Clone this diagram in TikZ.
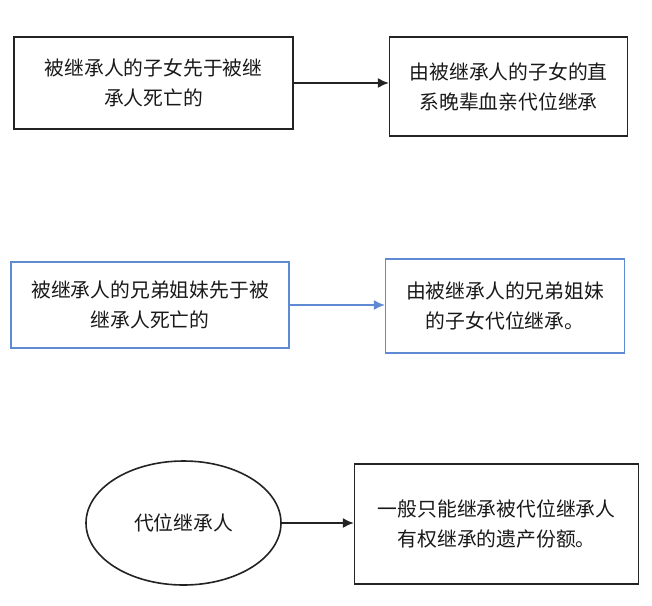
\documentclass[tikz,border=0pt]{standalone}
\usepackage{fontspec}
\setmainfont{Noto Sans CJK SC}
\usetikzlibrary{arrows.meta, positioning, shapes.geometric}
\definecolor{lineblack}{RGB}{35,35,35}
\definecolor{lineblue}{RGB}{95,138,212}
\definecolor{txtgray}{RGB}{25,25,25}
\newcommand{\cjktext}{\fontsize{19.8pt}{30pt}\selectfont}
\tikzset{
  box/.style={rectangle, draw=lineblack, line width=1.6pt, align=center,
              inner sep=0pt, font=\cjktext, text=txtgray},
  bluebox/.style={box, draw=lineblue},
  oval/.style={ellipse, draw=lineblack, line width=1.6pt, inner sep=0pt,
               font=\cjktext, text=txtgray},
  arr/.style={-{Latex[length=11pt, width=10pt]}, line width=1.5pt, draw=lineblack},
  bluearr/.style={arr, draw=lineblue}
}

\begin{document}
\begin{tikzpicture}
\useasboundingbox (0,0) rectangle (652pt,-605pt);
\node[box, minimum width=279pt, minimum height=92pt] (a) at (153.5pt,-83pt) {被继承人的子女先于被继\\承人死亡的};
\node[box, minimum width=238pt, minimum height=99pt, right=95pt of a, yshift=-3.5pt] (b) {由被继承人的子女的直\\系晚辈血亲代位继承};
\node[bluebox, minimum width=278pt, minimum height=86pt] (c) at (150pt,-305pt) {被继承人的兄弟姐妹先于被\\继承人死亡的};
\node[bluebox, minimum width=239pt, minimum height=94pt, right=95pt of c, yshift=-1pt] (d) {由被继承人的兄弟姐妹\\的子女代位继承。};
\node[oval, minimum width=195pt, minimum height=124pt] (e) at (183.5pt,-523pt) {代位继承人};
\node[box, minimum width=284pt, minimum height=120pt, right=72pt of e, yshift=-1pt] (f) {一般只能继承被代位继承人\\有权继承的遗产份额。};
\draw[arr] (a.east) -- (a.east -| b.west);
\draw[bluearr] (c.east) -- (c.east -| d.west);
\draw[arr] (e.east) -- (e.east -| f.west);
\end{tikzpicture}
\end{document}
